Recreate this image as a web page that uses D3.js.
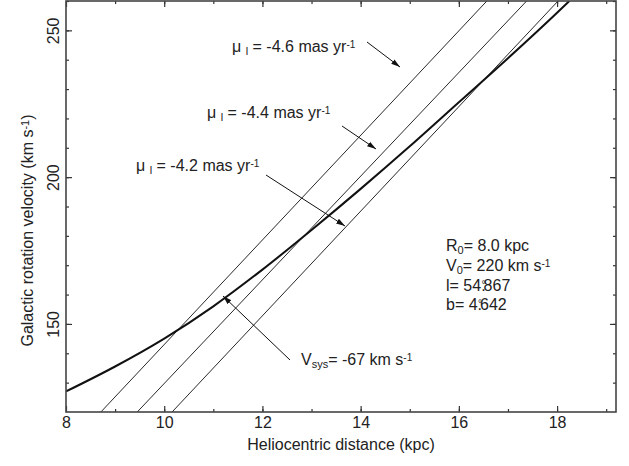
<!DOCTYPE html>
<html>
<head>
<meta charset="utf-8">
<script src="https://cdn.jsdelivr.net/npm/d3@7"></script>
<style>
body { margin: 0; background: #fff; }
text { font-family: "Liberation Sans", Arial, sans-serif; fill: #222; }
</style>
</head>
<body>
<svg width="629" height="466"></svg>
<script>
// rotation curve (thick)
var curveX = [8, 9, 10, 11, 12, 13, 14, 15, 16, 17, 18, 18.25];
var curveV = [127, 135.5, 145, 156, 168.5, 182, 196, 210.5, 225.5, 240.5, 256, 260];

// proper motion lines (thin)
var muLabels = ["-4.6", "-4.4", "-4.2"];
var muX = [[8.71, 16.57], [9.45, 17.38], [10.16, 18.02]];
var muV = [[120, 260], [120, 260], [120, 260]];

var xMajor = [8, 10, 12, 14, 16, 18];
var yMajor = [150, 200, 250];

var svg = d3.select("svg"),
	margin = {left: 66, right: 13, top: 1, bottom: 54},
	width = 629 - margin.left - margin.right,
	height = 466 - margin.top - margin.bottom;

var x = d3.scaleLinear().domain([8, 19.2]).range([0, width]);
var y = d3.scaleLinear().domain([120, 260]).range([height, 0]);

var g = svg.append("g")
	.attr("transform", "translate(" + margin.left + "," + margin.top + ")");

svg.append("defs").append("marker")
	.attr("id", "arr")
	.attr("viewBox", "0 0 10 10")
	.attr("refX", 10).attr("refY", 5)
	.attr("markerWidth", 9).attr("markerHeight", 9)
	.attr("markerUnits", "userSpaceOnUse")
	.attr("orient", "auto")
	.append("path")
	.attr("d", "M0,2L10,5L0,8Z")
	.attr("fill", "#111");

svg.select("defs").append("clipPath").attr("id", "clip")
	.append("rect").attr("width", width).attr("height", height);

var plot = g.append("g").attr("clip-path", "url(#clip)");

var line = d3.line()
	.x(function(d) { return x(d[0]); })
	.y(function(d) { return y(d[1]); });

muX.forEach(function(xs, i) {
	plot.append("path")
		.datum(xs.map(function(v, j) { return [v, muV[i][j]]; }))
		.attr("d", line)
		.attr("fill", "none")
		.attr("stroke", "#111")
		.attr("stroke-width", 0.9);
});

plot.append("path")
	.datum(curveX.map(function(v, i) { return [v, curveV[i]]; }))
	.attr("d", line.curve(d3.curveMonotoneX))
	.attr("fill", "none")
	.attr("stroke", "#111")
	.attr("stroke-width", 2);

// axes, ticks inward on all four sides
function axes(axis, major, minor, tr, labels) {
	var a = g.append("g").attr("transform", tr);
	a.call(axis.tickValues(minor).tickSize(3).tickFormat(""));
	var b = g.append("g").attr("transform", tr);
	b.call(axis.tickValues(major).tickSize(6).tickFormat(labels ? null : ""));
	[a, b].forEach(function(s) {
		s.select(".domain").remove();
		s.selectAll("line").attr("stroke", "#333").attr("stroke-width", 1.2);
	});
	return b;
}
var xMinor = d3.range(9, 19.5, 1);
var yMinor = d3.range(130, 261, 10);

var bx = axes(d3.axisTop(x), xMajor, xMinor, "translate(0," + height + ")", true);
bx.selectAll("text").attr("y", 5).attr("dy", "0.71em").attr("font-size", 16);
axes(d3.axisBottom(x), xMajor, xMinor, "translate(0,0)", false);
var by = axes(d3.axisRight(y), yMajor, yMinor, "translate(0,0)", true);
by.selectAll("text")
	.attr("x", null).attr("dy", null)
	.attr("transform", "translate(-7,0) rotate(-90)")
	.attr("text-anchor", "middle")
	.attr("font-size", 16);
axes(d3.axisLeft(y), yMajor, yMinor, "translate(" + width + ",0)", false);

g.append("rect")
	.attr("width", width).attr("height", height)
	.attr("fill", "none").attr("stroke", "#444").attr("stroke-width", 1.6);

// axis titles
g.append("text")
	.attr("x", width / 2).attr("y", height + 38)
	.attr("text-anchor", "middle").attr("font-size", 16)
	.text("Heliocentric distance (kpc)");

var yt = g.append("text")
	.attr("transform", "translate(-33," + (height / 2 + 24) + ") rotate(-90)")
	.attr("text-anchor", "middle").attr("font-size", 16);
yt.append("tspan").text("Galactic rotation velocity (km s");
yt.append("tspan").attr("baseline-shift", "40%").attr("font-size", 11).text("-1");
yt.append("tspan").text(")");

// mu labels and arrows
var muText = [[232, 52], [207, 118], [136, 171]];
var muArrows = [[[367, 42], [400, 67]], [[342, 126], [376, 149]], [[266, 175], [345, 226]]];
muLabels.forEach(function(m, i) {
	var t = svg.append("text").attr("x", muText[i][0]).attr("y", muText[i][1]).attr("font-size", 16);
	t.append("tspan").text("\u03bc ");
	t.append("tspan").attr("baseline-shift", "-30%").attr("font-size", 11).text("l");
	t.append("tspan").text(" = " + m + " mas yr");
	t.append("tspan").attr("baseline-shift", "40%").attr("font-size", 10).text("-1");
	svg.append("line")
		.attr("x1", muArrows[i][0][0]).attr("y1", muArrows[i][0][1])
		.attr("x2", muArrows[i][1][0]).attr("y2", muArrows[i][1][1])
		.attr("stroke", "#111").attr("stroke-width", 1)
		.attr("marker-end", "url(#arr)");
});

// Vsys label
var vs = svg.append("text").attr("x", 301).attr("y", 365).attr("font-size", 16);
vs.append("tspan").text("V");
vs.append("tspan").attr("baseline-shift", "-30%").attr("font-size", 11).text("sys");
vs.append("tspan").text("= -67 km s");
vs.append("tspan").attr("baseline-shift", "40%").attr("font-size", 10).text("-1");
svg.append("line")
	.attr("x1", 290).attr("y1", 360).attr("x2", 223).attr("y2", 296)
	.attr("stroke", "#111").attr("stroke-width", 1)
	.attr("marker-end", "url(#arr)");

// parameters
var p0 = svg.append("text").attr("x", 446).attr("y", 251).attr("font-size", 16);
p0.append("tspan").text("R");
p0.append("tspan").attr("baseline-shift", "-30%").attr("font-size", 11).text("0");
p0.append("tspan").text("= 8.0 kpc");
var p1 = svg.append("text").attr("x", 446).attr("y", 271).attr("font-size", 16);
p1.append("tspan").text("V");
p1.append("tspan").attr("baseline-shift", "-30%").attr("font-size", 11).text("0");
p1.append("tspan").text("= 220 km s");
p1.append("tspan").attr("baseline-shift", "40%").attr("font-size", 10).text("-1");
var p2 = svg.append("text").attr("x", 446).attr("y", 291).attr("font-size", 16);
p2.append("tspan").text("l= 54.");
p2.append("tspan").attr("dx", -4).attr("baseline-shift", "35%").attr("font-size", 10).text("\u00b0");
p2.append("tspan").attr("dx", -2).text("867");
var p3 = svg.append("text").attr("x", 446).attr("y", 310).attr("font-size", 16);
p3.append("tspan").text("b= 4.");
p3.append("tspan").attr("dx", -4).attr("baseline-shift", "35%").attr("font-size", 10).text("\u00b0");
p3.append("tspan").attr("dx", -2).text("642");
</script>
</body>
</html>
